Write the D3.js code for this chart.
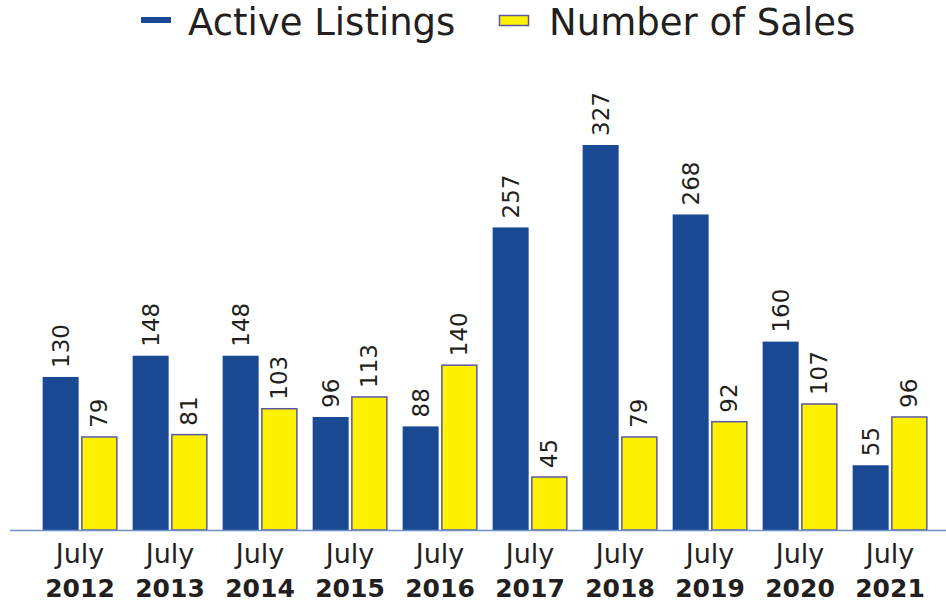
<!DOCTYPE html>
<html>
<head>
<meta charset="utf-8">
<script src="https://cdn.jsdelivr.net/npm/d3@7"></script>
<style>
  body { margin: 0; background: #fff; }
  text { font-family: "DejaVu Sans", "Open Sans", sans-serif; fill: #231f20; }
</style>
</head>
<body>
<div class="box"></div>
<script>
// DATA
const years = ['2012', '2013', '2014', '2015', '2016', '2017', '2018', '2019', '2020', '2021'];
const activeListings = [130, 148, 148, 96, 88, 257, 327, 268, 160, 55];
const numberOfSales = [79, 81, 103, 113, 140, 45, 79, 92, 107, 96];
const seriesNames = ['Active Listings', 'Number of Sales'];

// SETUP
const dims = {width: 946, height: 603};
const baseY = 530;

const svg = d3.select('.box')
              .append('svg')
              .attr('width', dims.width)
              .attr('height', dims.height);

const rows = years.map((y, i) => ({year: y, values: [activeListings[i], numberOfSales[i]]}));

const x0 = d3.scaleBand()
             .domain(years)
             .range([35, 935])
             .paddingInner(0.17)
             .paddingOuter(0.085);

const x1 = d3.scaleBand()
             .domain([0, 1])
             .range([0, x0.bandwidth()])
             .paddingInner(0.07);

const y = d3.scaleLinear()
            .domain([0, 327])
            .range([baseY, 145]);

const fills = ['#1a4a94', '#fff200'];

// bars
const groups = svg.selectAll('g.grp')
                  .data(rows)
                  .enter()
                  .append('g')
                  .attr('class', 'grp')
                  .attr('transform', d => `translate(${x0(d.year)}, 0)`);

groups.selectAll('rect')
      .data(d => d.values)
      .enter()
      .append('rect')
      .attr('x', (d, i) => x1(i) + (i === 1 ? 0.5 : 0))
      .attr('width', (d, i) => x1.bandwidth() - (i === 1 ? 1 : 0))
      .attr('y', d => y(d))
      .attr('height', d => baseY - y(d))
      .attr('fill', (d, i) => fills[i])
      .attr('stroke', (d, i) => i === 1 ? '#5b57a3' : 'none')
      .attr('stroke-width', 1.5);

// value labels (rotated)
groups.selectAll('text.val')
      .data(d => d.values)
      .enter()
      .append('text')
      .attr('class', 'val')
      .attr('transform', (d, i) => `translate(${x1(i) + x1.bandwidth() / 2 + 8}, ${y(d) - 9}) rotate(-90)`)
      .attr('font-size', 23)
      .text(d => d);

// axis line
svg.append('line')
   .attr('x1', 10).attr('x2', 946)
   .attr('y1', baseY + 0.5).attr('y2', baseY + 0.5)
   .attr('stroke', '#6f8fc9')
   .attr('stroke-width', 1.5);

// tick labels
const ticks = svg.selectAll('g.tick')
                 .data(years)
                 .enter()
                 .append('g')
                 .attr('class', 'tick')
                 .attr('transform', d => `translate(${x0(d) + x0.bandwidth() / 2}, 0)`);

ticks.append('text')
     .attr('y', 563)
     .attr('text-anchor', 'middle')
     .attr('font-size', 27)
     .text('July');

ticks.append('text')
     .attr('y', 597)
     .attr('text-anchor', 'middle')
     .attr('font-size', 25)
     .attr('font-weight', 'bold')
     .text(d => d);

// legend
const legend = svg.append('g');
legend.append('rect')
      .attr('x', 141).attr('y', 17)
      .attr('width', 30).attr('height', 6)
      .attr('fill', fills[0]);
legend.append('text')
      .attr('x', 188).attr('y', 35)
      .attr('font-size', 37)
      .text(seriesNames[0]);
legend.append('rect')
      .attr('x', 499.5).attr('y', 15.5)
      .attr('width', 29).attr('height', 10)
      .attr('fill', fills[1])
      .attr('stroke', '#5b57a3')
      .attr('stroke-width', 1.5);
legend.append('text')
      .attr('x', 549).attr('y', 35)
      .attr('font-size', 37)
      .text(seriesNames[1]);
</script>
</body>
</html>
